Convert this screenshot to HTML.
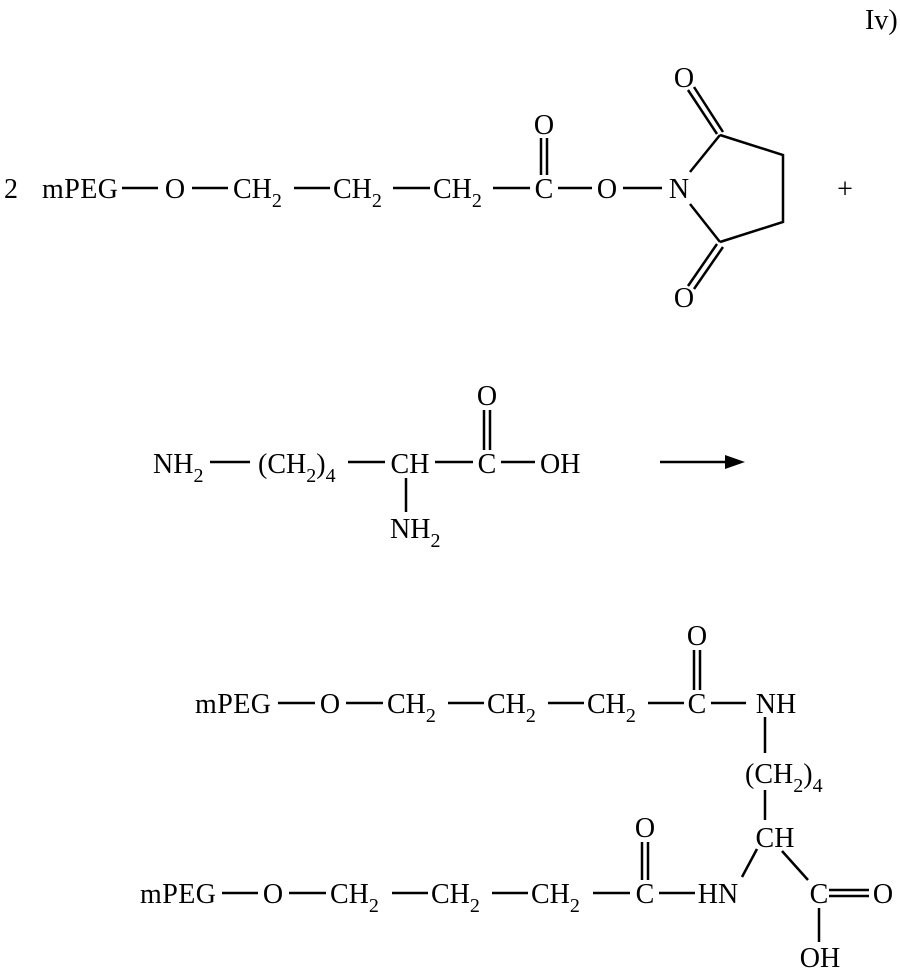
<!DOCTYPE html>
<html><head><meta charset="utf-8"><style>
html,body{margin:0;padding:0;background:#fff}
svg{display:block}
text{font-family:"Liberation Serif",serif;font-size:28px;fill:#000}
.s{font-size:20px}
line,polyline{stroke:#000;stroke-width:2.5;fill:none}
</style></head><body>
<svg width="900" height="969" viewBox="0 0 900 969">
<text x="865" y="29">Iv)</text>
<!-- row 1 -->
<text x="4" y="198">2</text>
<text x="42" y="198" textLength="76">mPEG</text>
<line x1="122" y1="188" x2="158" y2="188"/>
<text x="175" y="198" text-anchor="middle">O</text>
<line x1="192" y1="188" x2="228" y2="188"/>
<text x="233" y="198">CH<tspan class="s" dy="9">2</tspan></text>
<line x1="294" y1="188" x2="330" y2="188"/>
<text x="333" y="198">CH<tspan class="s" dy="9">2</tspan></text>
<line x1="393" y1="188" x2="430" y2="188"/>
<text x="433" y="198">CH<tspan class="s" dy="9">2</tspan></text>
<line x1="493" y1="188" x2="530" y2="188"/>
<text x="544" y="198" text-anchor="middle">C</text>
<text x="544" y="134" text-anchor="middle">O</text>
<line x1="541" y1="138" x2="541" y2="175"/><line x1="547" y1="138" x2="547" y2="175"/>
<line x1="558" y1="188" x2="592" y2="188"/>
<text x="607" y="198" text-anchor="middle">O</text>
<line x1="623" y1="188" x2="662" y2="188"/>
<text x="679" y="198" text-anchor="middle">N</text>
<line x1="690" y1="172" x2="720" y2="135"/>
<polyline points="720,135 783,155 783,222 720,242"/>
<line x1="690" y1="204" x2="720" y2="242"/>
<line x1="688" y1="90" x2="717" y2="134"/><line x1="694" y1="87" x2="723" y2="132"/>
<line x1="717" y1="244" x2="688" y2="286"/><line x1="723" y1="247" x2="694" y2="289"/>
<text x="684" y="87" text-anchor="middle">O</text>
<text x="684" y="307" text-anchor="middle">O</text>
<text x="845" y="198" text-anchor="middle">+</text>
<!-- row 2 -->
<text x="153" y="473">NH<tspan class="s" dy="9">2</tspan></text>
<line x1="210" y1="462" x2="250" y2="462"/>
<text x="258" y="473">(CH<tspan class="s" dy="9">2</tspan><tspan dy="-9">)</tspan><tspan class="s" dy="9">4</tspan></text>
<line x1="348" y1="462" x2="385" y2="462"/>
<text x="410" y="473" text-anchor="middle">CH</text>
<line x1="435" y1="462" x2="473" y2="462"/>
<text x="487" y="473" text-anchor="middle">C</text>
<text x="487" y="405" text-anchor="middle">O</text>
<line x1="484" y1="410" x2="484" y2="450"/><line x1="490" y1="410" x2="490" y2="450"/>
<line x1="501" y1="462" x2="535" y2="462"/>
<text x="540" y="473">OH</text>
<line x1="406" y1="478" x2="406" y2="512"/>
<text x="390" y="538">NH<tspan class="s" dy="9">2</tspan></text>
<line x1="660" y1="462" x2="730" y2="462"/>
<polygon points="745,462 725,455 725,469" fill="#000"/>
<!-- row 3 -->
<text x="195" y="713" textLength="76">mPEG</text>
<line x1="278" y1="703" x2="315" y2="703"/>
<text x="330" y="713" text-anchor="middle">O</text>
<line x1="346" y1="703" x2="383" y2="703"/>
<text x="387" y="713">CH<tspan class="s" dy="9">2</tspan></text>
<line x1="448" y1="703" x2="484" y2="703"/>
<text x="487" y="713">CH<tspan class="s" dy="9">2</tspan></text>
<line x1="548" y1="703" x2="584" y2="703"/>
<text x="587" y="713">CH<tspan class="s" dy="9">2</tspan></text>
<line x1="648" y1="703" x2="684" y2="703"/>
<text x="697" y="713" text-anchor="middle">C</text>
<text x="697" y="645" text-anchor="middle">O</text>
<line x1="694" y1="650" x2="694" y2="690"/><line x1="700" y1="650" x2="700" y2="690"/>
<line x1="711" y1="703" x2="746" y2="703"/>
<text x="776" y="713" text-anchor="middle">NH</text>
<line x1="765" y1="717" x2="765" y2="753"/>
<text x="745" y="783">(CH<tspan class="s" dy="9">2</tspan><tspan dy="-9">)</tspan><tspan class="s" dy="9">4</tspan></text>
<line x1="765" y1="790" x2="765" y2="820"/>
<text x="775" y="847" text-anchor="middle">CH</text>
<line x1="757" y1="849" x2="742" y2="877"/>
<line x1="782" y1="851" x2="808" y2="880"/>
<text x="140" y="903" textLength="76">mPEG</text>
<line x1="222" y1="893" x2="258" y2="893"/>
<text x="273" y="903" text-anchor="middle">O</text>
<line x1="289" y1="893" x2="326" y2="893"/>
<text x="330" y="903">CH<tspan class="s" dy="9">2</tspan></text>
<line x1="392" y1="893" x2="428" y2="893"/>
<text x="431" y="903">CH<tspan class="s" dy="9">2</tspan></text>
<line x1="492" y1="893" x2="528" y2="893"/>
<text x="531" y="903">CH<tspan class="s" dy="9">2</tspan></text>
<line x1="593" y1="893" x2="630" y2="893"/>
<text x="645" y="903" text-anchor="middle">C</text>
<text x="645" y="837" text-anchor="middle">O</text>
<line x1="642" y1="842" x2="642" y2="880"/><line x1="648" y1="842" x2="648" y2="880"/>
<line x1="659" y1="893" x2="695" y2="893"/>
<text x="718" y="903" text-anchor="middle">HN</text>
<text x="819" y="903" text-anchor="middle">C</text>
<line x1="829" y1="890" x2="869" y2="890"/><line x1="829" y1="896" x2="869" y2="896"/>
<text x="883" y="903" text-anchor="middle">O</text>
<line x1="819" y1="908" x2="819" y2="942"/>
<text x="820" y="967" text-anchor="middle">OH</text>
</svg>
</body></html>
